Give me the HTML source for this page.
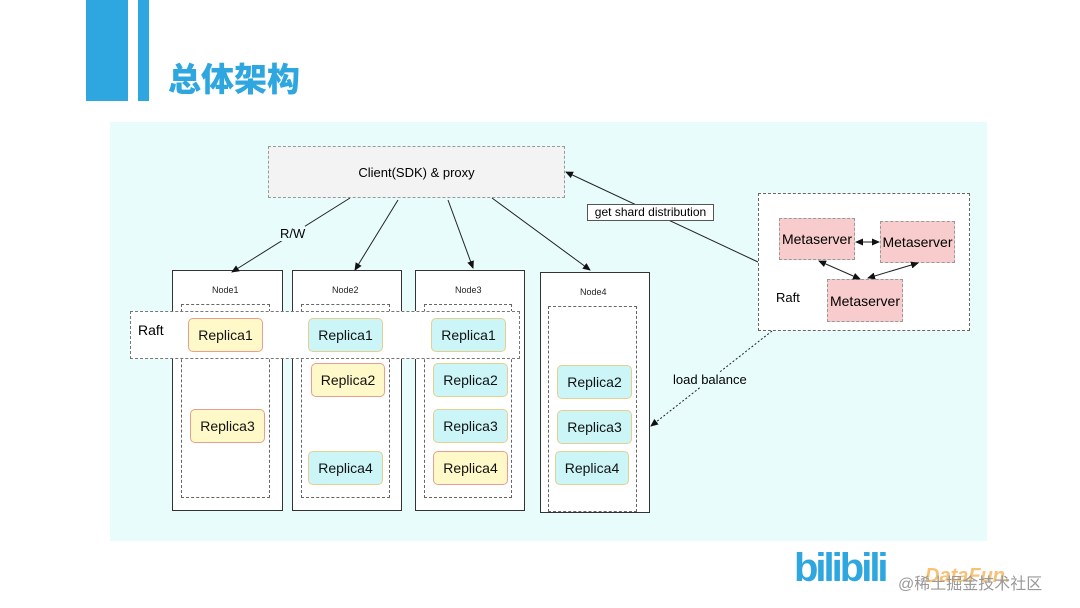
<!DOCTYPE html>
<html><head><meta charset="utf-8"><style>
body{margin:0;width:1080px;height:608px;background:#fff;position:relative;overflow:hidden;font-family:"Liberation Sans","Noto Sans CJK SC",sans-serif}
.a{position:absolute;box-sizing:border-box}
.node{border:1px solid #333;background:#fff}
.in{border:1px dashed #666}
.r{border-radius:5px;font-size:14px;color:#111;display:flex;align-items:center;justify-content:center}
.y{background:#fff8c8;border:1.5px solid #e7a08e}
.c{background:#ccf5f8;border:1.5px solid #e5cf8f}
.m{background:#f8cccc;border:1px dashed #999;font-size:14px;display:flex;align-items:center;justify-content:center}
.t{font-size:9px;color:#222}
</style></head><body>
<div class="a" style="left:86px;top:0;width:42px;height:101px;background:#2ea7e0"></div>
<div class="a" style="left:138px;top:0;width:11px;height:101px;background:#2ea7e0"></div>
<div class="a" style="left:168px;top:56px;font-size:33px;font-weight:900;color:#2ea7e0;font-family:'Noto Sans CJK SC',sans-serif;line-height:42px">总体架构</div>
<div class="a" style="left:110px;top:122px;width:877px;height:419px;background:#e9fcfc"></div>
<div class="a" style="left:268px;top:146px;width:297px;height:52px;background:#f3f3f3;border:1px dashed #999;font-size:13px;display:flex;align-items:center;justify-content:center">Client(SDK) &amp; proxy</div>

<div class="a node" style="left:172px;top:270px;width:111px;height:241px"></div>
<div class="a node" style="left:292px;top:270px;width:110px;height:241px"></div>
<div class="a node" style="left:415px;top:270px;width:110px;height:241px"></div>
<div class="a node" style="left:540px;top:272px;width:110px;height:241px"></div>
<div class="a t" style="left:212px;top:285px">Node1</div>
<div class="a t" style="left:332px;top:285px">Node2</div>
<div class="a t" style="left:455px;top:285px">Node3</div>
<div class="a t" style="left:580px;top:287px">Node4</div>
<div class="a in" style="left:181px;top:304px;width:89px;height:194px"></div>
<div class="a in" style="left:301px;top:304px;width:89px;height:194px"></div>
<div class="a in" style="left:424px;top:304px;width:88px;height:194px"></div>
<div class="a in" style="left:548px;top:306px;width:89px;height:206px"></div>
<div class="a" style="left:130px;top:311px;width:390px;height:48px;background:#fff;border:1px dashed #777"></div>
<div class="a" style="left:138px;top:322px;font-size:14px">Raft</div>

<div class="a r y" style="left:188px;top:318px;width:75px;height:34px">Replica1</div>
<div class="a r c" style="left:308px;top:318px;width:75px;height:34px">Replica1</div>
<div class="a r c" style="left:431px;top:318px;width:75px;height:34px">Replica1</div>
<div class="a r y" style="left:311px;top:363px;width:74px;height:34px">Replica2</div>
<div class="a r y" style="left:190px;top:409px;width:75px;height:34px">Replica3</div>
<div class="a r c" style="left:308px;top:451px;width:75px;height:34px">Replica4</div>
<div class="a r c" style="left:433px;top:363px;width:75px;height:34px">Replica2</div>
<div class="a r c" style="left:433px;top:409px;width:75px;height:34px">Replica3</div>
<div class="a r y" style="left:433px;top:451px;width:75px;height:34px">Replica4</div>
<div class="a r c" style="left:557px;top:365px;width:75px;height:34px">Replica2</div>
<div class="a r c" style="left:557px;top:410px;width:75px;height:34px">Replica3</div>
<div class="a r c" style="left:555px;top:451px;width:74px;height:34px">Replica4</div>

<div class="a" style="left:758px;top:193px;width:212px;height:138px;background:#fff;border:1px dashed #666"></div>
<div class="a m" style="left:779px;top:218px;width:76px;height:42px">Metaserver</div>
<div class="a m" style="left:880px;top:221px;width:75px;height:42px">Metaserver</div>
<div class="a m" style="left:827px;top:279px;width:76px;height:43px">Metaserver</div>
<div class="a" style="left:776px;top:290px;font-size:13px">Raft</div>

<svg class="a" style="left:0;top:0" width="1080" height="608">
<defs><marker id="ar" markerWidth="8" markerHeight="8" refX="7" refY="4" orient="auto" markerUnits="userSpaceOnUse"><path d="M0,0.5L8,4L0,7.5z" fill="#111"/></marker>
<marker id="as" markerWidth="8" markerHeight="8" refX="1" refY="4" orient="auto" markerUnits="userSpaceOnUse"><path d="M8,0.5L0,4L8,7.5z" fill="#111"/></marker></defs>
<g stroke="#222" stroke-width="1" fill="none">
<line x1="350" y1="198" x2="232" y2="272" marker-end="url(#ar)"/>
<line x1="398" y1="200" x2="355" y2="270" marker-end="url(#ar)"/>
<line x1="448" y1="200" x2="473" y2="268" marker-end="url(#ar)"/>
<line x1="492" y1="198" x2="590" y2="270" marker-end="url(#ar)"/>
<line x1="758" y1="262" x2="566" y2="172" marker-end="url(#ar)"/>
<line x1="772" y1="331" x2="651" y2="426" stroke-dasharray="2,2" marker-end="url(#ar)"/>
<line x1="856" y1="242" x2="879" y2="242" marker-start="url(#as)" marker-end="url(#ar)"/>
<line x1="819" y1="261" x2="860" y2="279" marker-start="url(#as)" marker-end="url(#ar)"/>
<line x1="868" y1="278" x2="918" y2="263" marker-start="url(#as)" marker-end="url(#ar)"/>
</g></svg>
<div class="a" style="left:280px;top:226px;font-size:13px;background:#e9fcfc">R/W</div>
<div class="a" style="left:587px;top:204px;width:127px;height:17px;background:#fff;border:1px solid #555;font-size:12px;line-height:15px;text-align:center">get shard distribution</div>
<div class="a" style="left:673px;top:372px;font-size:13px;background:#e9fcfc">load balance</div>

<div class="a" style="left:794px;top:546px;font-size:40px;font-weight:bold;color:#2ea7e0;letter-spacing:-3px">bilibili</div>
<div class="a" style="left:925px;top:565px;font-size:20px;font-weight:bold;color:#f39a1e;opacity:.6;font-style:italic">DataFun.</div>
<div class="a" style="left:898px;top:570px;font-size:16px;color:#999">@稀土掘金技术社区</div>
</body></html>
